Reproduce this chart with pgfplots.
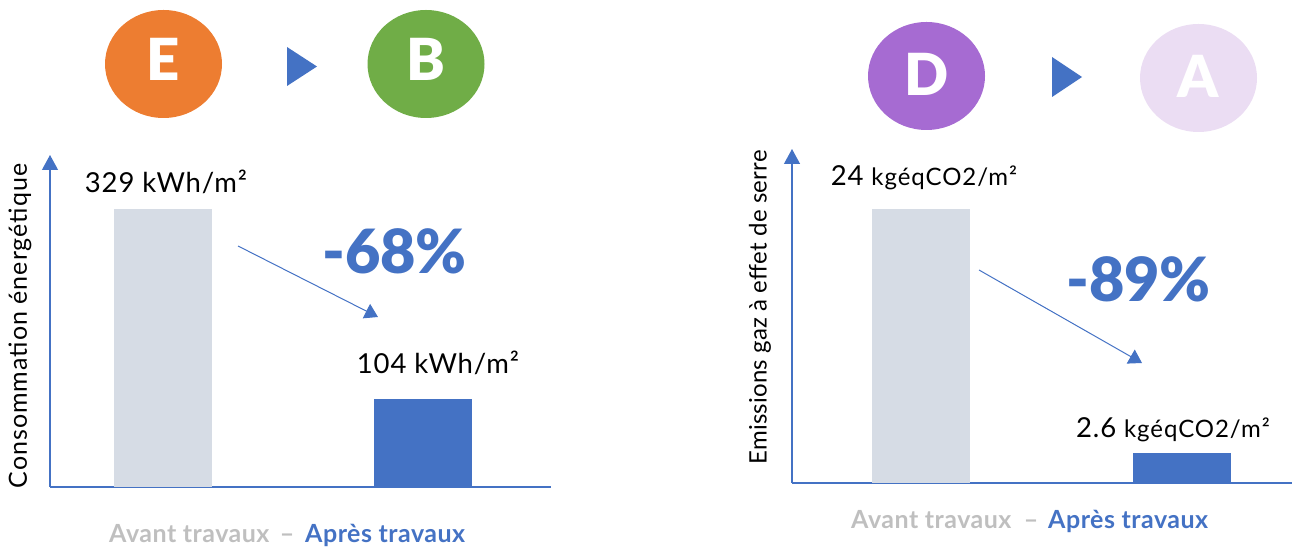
\documentclass[border=0pt]{standalone}
\usepackage{fontspec}
\setmainfont{Lato}
\IfFontExistsTF{Lato Black}{\newfontfamily\heavy{Lato Black}}{\newcommand\heavy{\bfseries}}
\usepackage{pgfplots}
\pgfplotsset{compat=1.18}
\usetikzlibrary{arrows.meta}
\definecolor{myblue}{HTML}{4472C4}
\definecolor{bargrey}{HTML}{D6DCE5}
\definecolor{txtgrey}{HTML}{BFBFBF}
\definecolor{eorange}{HTML}{ED7D31}
\definecolor{bgreen}{HTML}{70AD47}
\definecolor{dpurple}{HTML}{A66BD2}
\definecolor{alight}{HTML}{EBDDF3}
\newcommand\valfont{\fontsize{27.5}{30}\selectfont\addfontfeature{LetterSpace=3}}
\newcommand\unitfont{\fontsize{24}{26}\selectfont\addfontfeature{LetterSpace=4}}
\newcommand\botfont{\bfseries\fontsize{25}{27}\selectfont\addfontfeature{LetterSpace=2}}
\begin{document}
\begin{tikzpicture}[x=1pt,y=1pt,every node/.append style={inner sep=0pt}]
\useasboundingbox (0,0) rectangle (1292,548);
% ---------- left panel ----------
\begin{axis}[
  at={(50pt,61pt)}, anchor=south west,
  scale only axis, width=501pt, height=332pt,
  xmin=0, xmax=501, ymin=0, ymax=392.9,
  axis lines=left, clip=false,
  axis line style={draw=myblue, line width=1.2pt},
  x axis line style={-},
  y axis line style={-{Triangle[width=16pt,length=15pt]}},
  ticks=none,
]
\addplot[ybar, bar width=98pt, bar shift=0pt, fill=bargrey, draw=none] coordinates {(113,329)};
\addplot[ybar, bar width=98pt, bar shift=0pt, fill=myblue, draw=none] coordinates {(373,104)};
\end{axis}
% ---------- right panel ----------
\begin{axis}[
  at={(792pt,65pt)}, anchor=south west,
  scale only axis, width=500pt, height=334pt,
  xmin=0, xmax=500, ymin=0, ymax=29.25,
  axis lines=left, clip=false,
  axis line style={draw=myblue, line width=1.2pt},
  x axis line style={-},
  y axis line style={-{Triangle[width=16pt,length=15pt]}},
  ticks=none,
]
\addplot[ybar, bar width=98pt, bar shift=0pt, fill=bargrey, draw=none] coordinates {(129,24)};
\addplot[ybar, bar width=98pt, bar shift=0pt, fill=myblue, draw=none] coordinates {(390,2.6)};
\end{axis}
% value labels
\node[anchor=base, font=\valfont] at (166,355) {329 kWh/m²};
\node[anchor=base, font=\valfont] at (438,174) {104 kWh/m²};
\node[anchor=base, font=\valfont] at (924,362) {24 {\unitfont kgéqCO2/m²}};
\node[anchor=base, font=\valfont] at (1173,110) {2.6 {\unitfont kgéqCO2/m²}};
% percentage changes
\node[anchor=base, text=myblue, font=\heavy\fontsize{61}{64}\selectfont] at (394.5,274) {-68\%};
\node[anchor=base, text=myblue, font=\heavy\fontsize{61}{64}\selectfont] at (1138.5,246) {-89\%};
\draw[myblue, line width=1pt, -{Triangle[width=16pt,length=13pt]}] (238,302) -- (378,231);
\draw[myblue, line width=1pt, -{Triangle[width=16pt,length=13pt]}] (979,278) -- (1142,185);
% y labels
\node[rotate=90, font=\fontsize{25}{27}\selectfont\addfontfeature{LetterSpace=4}] at (20,222) {Consommation énergétique};
\node[rotate=90, font=\fontsize{24}{26}\selectfont\addfontfeature{LetterSpace=1}] at (760,240.5) {Emissions gaz à effet de serre};
% bottom labels
\node[anchor=base west, text=txtgrey, font=\botfont] at (109,5) {Avant travaux};
\node[anchor=base, text=txtgrey, font=\botfont] at (287,5) {–};
\node[anchor=base west, text=myblue, font=\botfont] at (305,5) {Après travaux};
\node[anchor=base west, text=txtgrey, font=\botfont] at (851,19) {Avant travaux};
\node[anchor=base, text=txtgrey, font=\botfont] at (1031,19) {–};
\node[anchor=base west, text=myblue, font=\botfont] at (1048,19) {Après travaux};
% energy class circles
\fill[eorange] (163.5,484) ellipse [x radius=58.5, y radius=54];
\fill[bgreen] (426,484) ellipse [x radius=58.5, y radius=54];
\fill[dpurple] (926.5,472) ellipse [x radius=58.5, y radius=54];
\fill[alight] (1198.5,470) ellipse [x radius=58.5, y radius=54];
\node[text=white, font=\heavy\fontsize{58}{60}\selectfont] at (163.5,489) {E};
\node[text=white, font=\heavy\fontsize{58}{60}\selectfont] at (426,489) {B};
\node[text=white, font=\heavy\fontsize{58}{60}\selectfont] at (926.5,474) {D};
\node[text=white, font=\heavy\fontsize{58}{60}\selectfont] at (1198.5,472) {A};
\fill[myblue] (287,501) -- (287,462) -- (317,481.5) -- cycle;
\fill[myblue] (1052,491) -- (1052,451) -- (1082,471) -- cycle;
\end{tikzpicture}
\end{document}
